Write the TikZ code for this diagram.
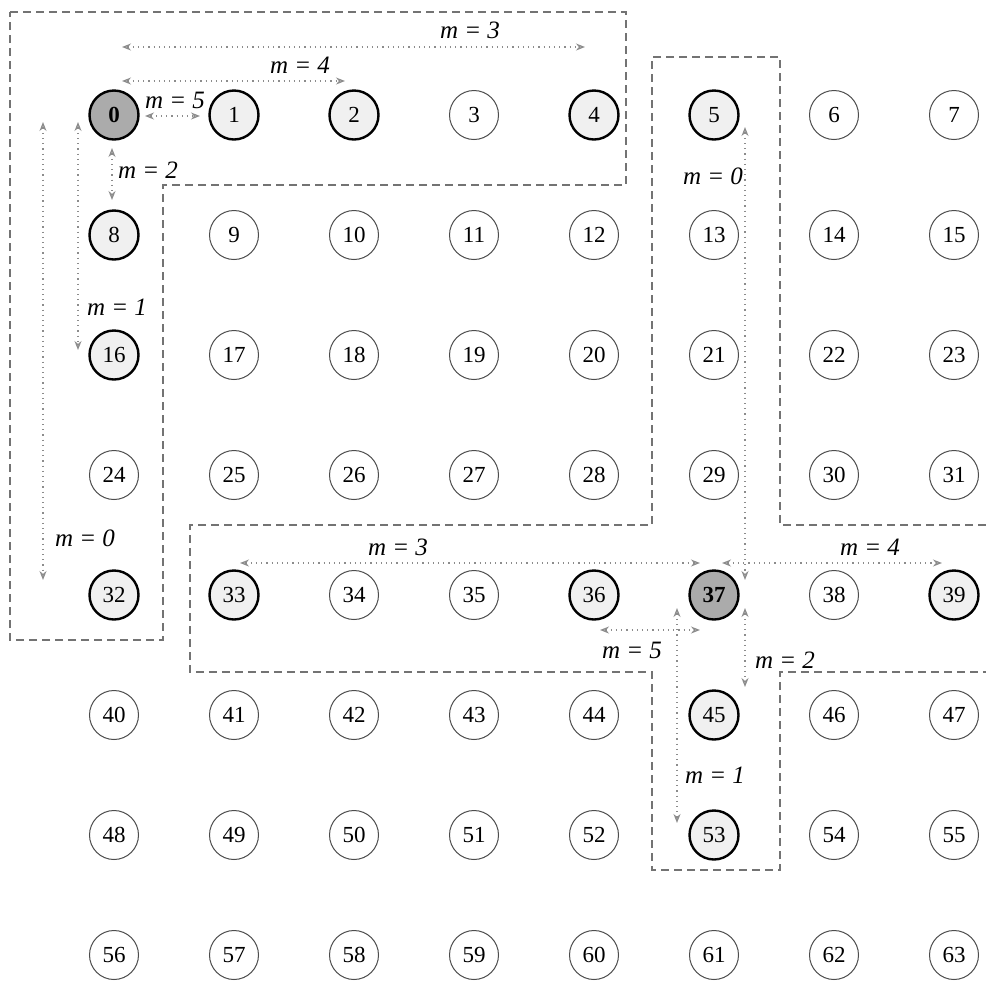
\documentclass[tikz,border=0pt]{standalone}
\usepackage{fontspec}
\setmainfont{Liberation Serif}
\usetikzlibrary{arrows.meta}

\begin{document}
\begin{tikzpicture}[x=0.5pt,y=-0.5pt]
    \useasboundingbox (0,0) rectangle (986,981);

    \tikzset{
        pe/.style={circle,draw=black!70,line width=0.5pt,minimum size=24.5pt,inner sep=0pt,
            font=\fontsize{11.5}{13}\selectfont},
        member/.style={pe,draw=black,line width=1.2pt,fill=black!6},
        root/.style={member,fill=black!33,font=\fontsize{11.5}{13}\selectfont\bfseries},
        region/.style={draw=black!55,line width=0.7pt,dash pattern=on 4pt off 2.5pt},
        hop/.style={draw=black!45,line width=0.6pt,dotted,
            {Stealth[open,length=4.5pt,width=3.5pt]}-{Stealth[open,length=4.5pt,width=3.5pt]}},
        hoplabel/.style={font=\fontsize{12.5}{14}\selectfont\itshape,inner sep=1pt},
    }
    \tikzset{pe 0/.style={root},pe 37/.style={root}}
    \tikzset{pe 1/.style={member},pe 2/.style={member},pe 4/.style={member},
        pe 5/.style={member},pe 8/.style={member},pe 16/.style={member},
        pe 32/.style={member},pe 33/.style={member},pe 36/.style={member},
        pe 39/.style={member},pe 45/.style={member},pe 53/.style={member}}

    % the mesh
    \foreach \k in {0,...,63} {
        \pgfmathtruncatemacro{\col}{mod(\k,8)}
        \pgfmathtruncatemacro{\row}{div(\k,8)}
        \node[pe, pe \k/.try] (n\k) at (114+120*\col, 115+120*\row) {\k};
    }

    % regions
    \draw[region] (10,12) -- (626,12) -- (626,185) -- (163,185) -- (163,640) -- (10,640) -- cycle;
    \draw[region] (986,525) -- (780,525) -- (780,57) -- (652,57) -- (652,525) -- (190,525)
        -- (190,672) -- (652,672) -- (652,870) -- (780,870) -- (780,672) -- (986,672);

    % hops from 0 and from 37
    \foreach \a/\ax/\ay/\b/\bx/\by in {
        n0/8/-68/n4/-9/-68, n0/8/-34/n2/-9/-34, n0/31/1/n1/-34/1,
        n0/-2/33/n8/-2/-35, n0/-36/7/n16/-36/-5, n0/-71/7/n32/-71/-15,
        n5/31/12/n37/31/-15, n33/6/-32/n37/-14/-32, n37/8/-32/n39/-12/-32,
        n36/6/35/n37/-14/35, n37/31/13/n45/31/-28, n37/-37/13/n53/-37/-12%
    } {
        \draw[hop] ([shift={(\ax,\ay)}]\a.center) -- ([shift={(\bx,\by)}]\b.center);
    }

    \foreach \x/\y/\m [count=\i] in {
        470/30/3, 300/65/4, 175/100/5, 148/170/2, 117/307/1, 85/538/0,
        713/176/0, 398/547/3, 870/547/4, 632/650/5, 785/660/2, 715/775/1%
    } {
        \node[hoplabel] (m\i) at (\x,\y) {m = \m};
    }
\end{tikzpicture}
\end{document}
